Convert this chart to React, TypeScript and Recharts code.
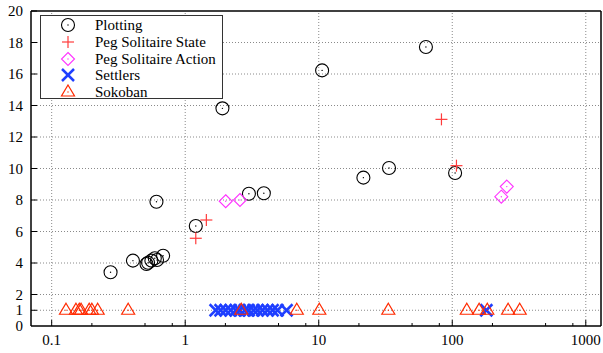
import React from 'react';
import {
  ScatterChart,
  Scatter,
  XAxis,
  YAxis,
  ReferenceLine,
  Legend,
} from 'recharts';

// run time (x, log scale) vs. value (y) per benchmark domain
const plottingX = [0.276, 0.406, 0.513, 0.527, 0.558, 0.592, 0.615, 0.683, 0.609, 1.2, 1.9, 3.0, 3.88, 10.6, 63.5, 21.6, 33.6, 105];
const plottingY = [3.41, 4.15, 3.94, 4.02, 4.15, 4.3, 4.19, 4.46, 7.89, 6.35, 13.82, 8.4, 8.43, 16.23, 17.71, 9.42, 10.03, 9.71];

const pegStateX = [1.2, 1.44, 83, 107.5];
const pegStateY = [5.57, 6.73, 13.12, 10.18];

const pegActionX = [2.01, 2.57, 233, 256];
const pegActionY = [7.92, 8.0, 8.21, 8.85];

const settlersX = [1.69, 1.84, 2.01, 2.19, 2.39, 2.55, 2.79, 2.98, 3.25, 3.48, 3.79, 4.14, 4.51, 4.91, 5.74, 180];
const settlersY = [1, 1, 1, 1, 1, 1, 1, 1, 1, 1, 1, 1, 1, 1, 1, 1];

const sokobanX = [0.128, 0.152, 0.161, 0.166, 0.191, 0.2, 0.221, 0.374, 2.63, 6.85, 10.1, 33.2, 128.5, 159, 183, 262, 320];
const sokobanY = [1, 1, 1, 1, 1, 1, 1, 1, 1, 1, 1, 1, 1, 1, 1, 1, 1];

const xMajorTicks = [0.1, 1, 10, 100, 1000];
const xMinorTicks = [0.2, 0.5, 0.8, 2, 5, 8, 20, 50, 80, 200, 500, 800];
const yTicks = [1, 2, 4, 6, 8, 10, 12, 14, 16, 18, 20];
const yGrid = [1, 2, 4, 6, 8, 10, 12, 14, 16, 18];

const zip = (xs: number[], ys: number[]) => xs.map((x, i) => ({ x, y: ys[i] }));

const FONT = 'serif';
const RED_PLUS = '#ff3b3b';
const MAGENTA = '#ff33ff';
const BLUE = '#1f3fff';
const RED_TRI = '#ff2a00';
const GRID = '#8a8a8a';

type Kind = 'circle' | 'plus' | 'diamond' | 'cross' | 'triangle';

function Marker({ kind, cx, cy }: { kind: Kind; cx: number; cy: number }) {
  if (kind === 'circle') {
    return (
      <g>
        <circle cx={cx} cy={cy} r={6.5} fill="none" stroke="#000" strokeWidth={1.1} />
        <circle cx={cx} cy={cy} r={0.7} fill="#000" />
      </g>
    );
  }
  if (kind === 'plus') {
    return (
      <g stroke={RED_PLUS} strokeWidth={1.2}>
        <line x1={cx - 6} y1={cy} x2={cx + 6} y2={cy} />
        <line x1={cx} y1={cy - 6} x2={cx} y2={cy + 6} />
      </g>
    );
  }
  if (kind === 'diamond') {
    return (
      <g>
        <polygon
          points={`${cx},${cy - 6.5} ${cx + 6.5},${cy} ${cx},${cy + 6.5} ${cx - 6.5},${cy}`}
          fill="none"
          stroke={MAGENTA}
          strokeWidth={1.1}
        />
        <circle cx={cx} cy={cy} r={0.7} fill={MAGENTA} />
      </g>
    );
  }
  if (kind === 'cross') {
    return (
      <g stroke={BLUE} strokeWidth={2.5}>
        <line x1={cx - 6} y1={cy - 6} x2={cx + 6} y2={cy + 6} />
        <line x1={cx - 6} y1={cy + 6} x2={cx + 6} y2={cy - 6} />
      </g>
    );
  }
  return (
    <g>
      <polygon
        points={`${cx},${cy - 7} ${cx + 6.5},${cy + 4} ${cx - 6.5},${cy + 4}`}
        fill="none"
        stroke={RED_TRI}
        strokeWidth={1.2}
      />
      <circle cx={cx} cy={cy} r={0.7} fill={RED_TRI} />
    </g>
  );
}

const shapeOf = (kind: Kind) => (props: any) => <Marker kind={kind} cx={props.cx} cy={props.cy} />;

const series: { name: string; kind: Kind; data: { x: number; y: number }[] }[] = [
  { name: 'Plotting', kind: 'circle', data: zip(plottingX, plottingY) },
  { name: 'Peg Solitaire State', kind: 'plus', data: zip(pegStateX, pegStateY) },
  { name: 'Peg Solitaire Action', kind: 'diamond', data: zip(pegActionX, pegActionY) },
  { name: 'Settlers', kind: 'cross', data: zip(settlersX, settlersY) },
  { name: 'Sokoban', kind: 'triangle', data: zip(sokobanX, sokobanY) },
];

const isMajor = (v: number) => xMajorTicks.includes(v);

// ticks drawn inward, labels outside
const BottomTick = (props: any) => {
  const { x, y, payload } = props;
  const len = isMajor(payload.value) ? 6 : 3;
  return (
    <g>
      <line x1={x} y1={y} x2={x} y2={y - len} stroke="#000" strokeWidth={1} />
      {isMajor(payload.value) && (
        <text x={x} y={y + 19} textAnchor="middle" fontSize={15} fontFamily={FONT} fill="#000">
          {String(payload.value)}
        </text>
      )}
    </g>
  );
};

const TopTick = (props: any) => {
  const { x, y, payload } = props;
  const len = isMajor(payload.value) ? 6 : 3;
  return <line x1={x} y1={y} x2={x} y2={y + len} stroke="#000" strokeWidth={1} />;
};

const LeftTick = (props: any) => {
  const { x, y, payload } = props;
  return (
    <g>
      <line x1={x} y1={y} x2={x + 6} y2={y} stroke="#000" strokeWidth={1} />
      <text x={x - 8} y={y + 5} textAnchor="end" fontSize={15} fontFamily={FONT} fill="#000">
        {String(payload.value)}
      </text>
    </g>
  );
};

const RightTick = (props: any) => {
  const { x, y } = props;
  return <line x1={x} y1={y} x2={x - 6} y2={y} stroke="#000" strokeWidth={1} />;
};

const LegendBox = () => (
  <div
    style={{
      width: 183,
      height: 84,
      border: '1.5px solid #333',
      background: '#fff',
      boxSizing: 'border-box',
      fontFamily: FONT,
      fontSize: 15,
      paddingTop: 1,
    }}
  >
    {series.map((s) => (
      <div key={s.name} style={{ display: 'flex', alignItems: 'center', height: 16.7 }}>
        <svg width={54} height={16} style={{ flex: 'none' }}>
          <Marker kind={s.kind} cx={27} cy={8} />
        </svg>
        <span style={{ lineHeight: '16px' }}>{s.name}</span>
      </div>
    ))}
  </div>
);

export default function App() {
  return (
    <div
      style={{
        position: 'absolute',
        left: 0,
        top: 0,
        width: 603,
        height: 353,
        background: '#fff',
        fontFamily: FONT,
      }}
    >
      <ScatterChart width={603} height={353} margin={{ top: 0, right: 0, bottom: 0, left: 0 }}>
        <XAxis
          xAxisId={0}
          dataKey="x"
          type="number"
          scale="log"
          domain={[0.07, 1300]}
          allowDataOverflow
          ticks={[...xMajorTicks, ...xMinorTicks]}
          interval={0}
          height={27}
          tickSize={0}
          tickMargin={0}
          tickLine={false}
          axisLine={{ stroke: '#000', strokeWidth: 1.5 }}
          tick={BottomTick}
        />
        <XAxis
          xAxisId="top"
          orientation="top"
          type="number"
          scale="log"
          domain={[0.07, 1300]}
          allowDataOverflow
          ticks={[...xMajorTicks, ...xMinorTicks]}
          interval={0}
          height={11}
          tickSize={0}
          tickMargin={0}
          tickLine={false}
          axisLine={{ stroke: '#000', strokeWidth: 1.5 }}
          tick={TopTick}
        />
        <YAxis
          yAxisId={0}
          dataKey="y"
          type="number"
          domain={[0, 20]}
          ticks={yTicks}
          interval={0}
          width={31}
          tickSize={0}
          tickMargin={0}
          tickLine={false}
          axisLine={{ stroke: '#000', strokeWidth: 1.5 }}
          tick={LeftTick}
        />
        <YAxis
          yAxisId="right"
          orientation="right"
          type="number"
          domain={[0, 20]}
          ticks={yTicks}
          interval={0}
          width={2}
          tickSize={0}
          tickMargin={0}
          tickLine={false}
          axisLine={{ stroke: '#000', strokeWidth: 1.5 }}
          tick={RightTick}
        />
        {yGrid.map((v) => (
          <ReferenceLine key={'h' + v} y={v} stroke={GRID} strokeDasharray="1 2" />
        ))}
        {xMajorTicks.map((v) => (
          <ReferenceLine key={'v' + v} x={v} stroke={GRID} strokeDasharray="1 2" />
        ))}
        <ReferenceLine
          y={0}
          stroke="none"
          label={{ value: '0', position: 'left', offset: 8, fontSize: 15, fontFamily: FONT, fill: '#000' }}
        />
        {series.map((s) => (
          <Scatter
            key={s.name}
            name={s.name}
            data={s.data}
            shape={shapeOf(s.kind)}
            isAnimationActive={false}
          />
        ))}
        <Legend
          layout="vertical"
          align="center"
          verticalAlign="middle"
          wrapperStyle={{ position: 'absolute', left: 40, top: 15, width: 183, height: 84 }}
          content={() => <LegendBox />}
        />
      </ScatterChart>
    </div>
  );
}
